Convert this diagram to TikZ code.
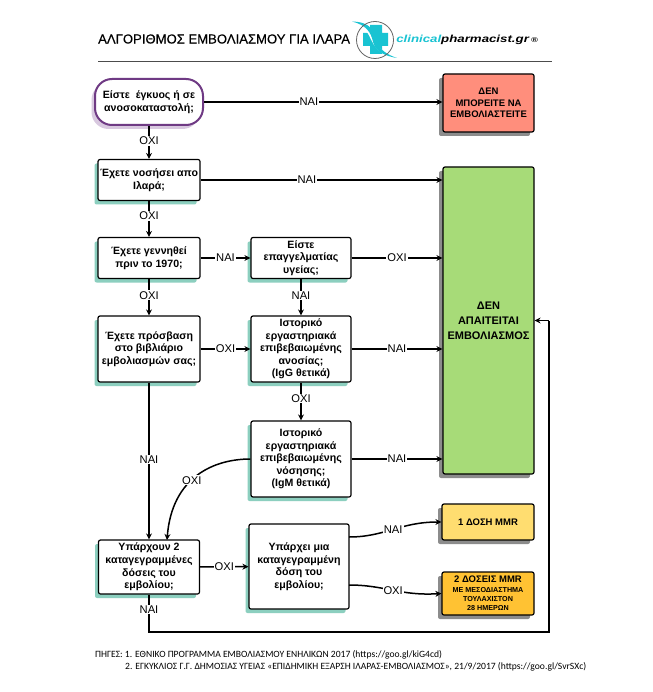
\documentclass[tikz,border=0pt]{standalone}
\usepackage{fontspec}
\setmainfont{Liberation Sans}
\newfontfamily\srcfont{Carlito}
\newfontfamily\titlefont[FakeBold=0.25]{Liberation Sans}
\usetikzlibrary{arrows.meta,shadows,calc}
\definecolor{tealshadow}{HTML}{8CCFBF}
\definecolor{grayshadow}{HTML}{8C8C8C}
\definecolor{purpleline}{HTML}{6F3A84}
\definecolor{purpleshadow}{HTML}{D8C8DF}
\definecolor{redfill}{HTML}{FF8E7C}
\definecolor{greenfill}{HTML}{A7DB78}
\definecolor{yellowfill}{HTML}{FFDD70}
\definecolor{orangefill}{HTML}{FFC233}
\definecolor{logoteal}{HTML}{19C3D2}
\tikzset{
  x=1pt,y=-1pt,
  boxbase/.style={draw=black,line width=1.2pt,rounded corners=2pt,align=center,inner sep=1pt,
    font=\fontsize{10.6}{12.6}\selectfont\bfseries},
  qbox/.style={boxbase,fill=white,drop shadow={shadow xshift=-3.5pt,shadow yshift=-4pt,fill=tealshadow,opacity=1}},
  ansbox/.style={boxbase,font=\fontsize{9.5}{11.7}\selectfont\bfseries,drop shadow={shadow xshift=-4pt,shadow yshift=-4pt,fill=grayshadow,opacity=1}},
  startbox/.style={boxbase,fill=white,draw=purpleline,line width=2pt,rounded corners=17pt,
    drop shadow={shadow xshift=-3.5pt,shadow yshift=-4pt,fill=purpleshadow,opacity=1}},
  flow/.style={draw=black,line width=1.5pt,-{Stealth[length=6pt,width=6pt]}},
  plainflow/.style={draw=black,line width=1.5pt},
  lab/.style={fill=white,inner sep=1pt,font=\fontsize{11.2}{13}\selectfont},
}
\begin{document}
\begin{tikzpicture}
\useasboundingbox[fill=white] (0,0) rectangle (652,692);

% header
\node[anchor=west,inner sep=0pt,font=\titlefont\fontsize{13.1}{15}\selectfont] (title) at (98,39) {ΑΛΓΟΡΙΘΜΟΣ ΕΜΒΟΛΙΑΣΜΟΥ ΓΙΑ ΙΛΑΡΑ};
\draw[line width=0.7pt,draw=black!70] (98,61) -- (552,61);
% logo
\fill[logoteal] (370,25) -- (382,25) -- (382,33) -- (388,33) -- (388,46) -- (382,46) -- (382,54) -- (370,54) -- (370,46) -- (363,46) -- (363,33) -- (370,33) -- cycle;
\draw[white,line width=2.6pt] (358,24) .. controls (376,30) and (366,46) .. (392,57);
\fill[logoteal] (352,21.5) .. controls (372,22) and (374,32) .. (376,40) .. controls (379,50) and (388,55) .. (397,58) .. controls (385,56) and (376,52) .. (373,42) .. controls (371,32) and (366,25) .. (352,21.5) -- cycle;
\draw[draw=black!60,line width=0.8pt] (375,40) circle (18.5);
\node[anchor=west,inner sep=0pt,xscale=1.3,font=\fontsize{10.2}{12}\selectfont\bfseries\itshape] (brand) at (396,40) {\textcolor{logoteal}{clinical}pharmacist.gr\,{\fontsize{7}{8}\selectfont ®}};

% nodes
\node[startbox,minimum width=108pt,minimum height=46pt] (start) at (149,102) {Είστε~ έγκυος ή σε\\ανοσοκαταστολή;};
\node[ansbox,fill=redfill,minimum width=91pt,minimum height=58pt] (red) at (488.5,103) {ΔΕΝ\\ΜΠΟΡΕΙΤΕ ΝΑ\\ΕΜΒΟΛΙΑΣΤΕΙΤΕ};
\node[qbox,minimum width=102pt,minimum height=41pt] (had) at (149,180) {Έχετε νοσήσει απο\\Ιλαρά;};
\node[qbox,minimum width=102pt,minimum height=41pt] (born) at (149,258) {Έχετε γεννηθεί\\πριν το 1970;};
\node[qbox,minimum width=100pt,minimum height=41pt] (staff) at (301,258) {Είστε\\επαγγελματίας\\υγείας;};
\node[qbox,minimum width=102pt,minimum height=66pt] (book) at (149,349) {Έχετε πρόσβαση\\στο βιβλιάριο\\εμβολιασμών σας;};
\node[qbox,minimum width=100pt,minimum height=66pt] (igg) at (301,349) {Ιστορικό\\εργαστηριακά\\επιβεβαιωμένης\\ανοσίας;\\(IgG θετικά)};
\node[qbox,minimum width=100pt,minimum height=76pt] (igm) at (301,459) {Ιστορικό\\εργαστηριακά\\επιβεβαιωμένης\\νόσησης;\\(IgM θετικά)};
\node[qbox,minimum width=101pt,minimum height=54pt] (two) at (149,567) {Υπάρχουν 2\\καταγεγραμμένες\\δόσεις του\\εμβολίου;};
\node[qbox,minimum width=100pt,minimum height=85pt] (one) at (299,566.5) {Υπάρχει μια\\καταγεγραμμένη\\δόση του\\εμβολίου;};
\node[ansbox,fill=greenfill,font=\fontsize{11}{15}\selectfont\bfseries,minimum width=91pt,minimum height=307pt] (green) at (488.5,320.5) {ΔΕΝ\\ΑΠΑΙΤΕΙΤΑΙ\\ΕΜΒΟΛΙΑΣΜΟΣ};
\node[ansbox,fill=yellowfill,minimum width=92pt,minimum height=36pt] (dose1) at (488,522) {1 ΔΟΣΗ MMR};
\node[ansbox,fill=orangefill,font=\fontsize{7.2}{9.2}\selectfont\bfseries,minimum width=92pt,minimum height=43pt] (dose2) at (488,593.5) {\fontsize{9.5}{9.2}\selectfont 2 ΔΟΣΕΙΣ MMR\\ΜΕ ΜΕΣΟΔΙΑΣΤΗΜΑ\\ΤΟΥΛΑΧΙΣΤΟΝ\\28 ΗΜΕΡΩΝ};

% named free points
\coordinate (igmin) at (167,540);
\coordinate (oneup) at (349,537);
\coordinate (onedown) at (349,585);
\coordinate (yesdrop) at (149,632);
\coordinate (yescorner) at (549,632);
\coordinate (yesup) at (549,320.5);

% connectors
\draw[flow] (start) -- node[lab,pos=0.44]{ΝΑΙ} (red.west |- start);
\draw[flow] (start) -- node[lab,pos=0.45]{ΟΧΙ} (had);
\draw[flow] (had) -- node[lab,pos=0.44]{ΝΑΙ} (green.west |- had);
\draw[flow] (had) -- node[lab,pos=0.42]{ΟΧΙ} (born);
\draw[flow] (born) -- node[lab,pos=0.5]{ΝΑΙ} (staff);
\draw[flow] (born) -- node[lab,pos=0.45]{ΟΧΙ} (book);
\draw[flow] (staff) -- node[lab]{ΟΧΙ} (green.west |- staff);
\draw[flow] (staff) -- node[lab,pos=0.45]{ΝΑΙ} (igg);
\draw[flow] (book) -- node[lab,pos=0.5]{ΟΧΙ} (igg);
\draw[flow] (igg) -- node[lab]{ΝΑΙ} (green.west |- igg);
\draw[flow] (igg) -- node[lab,pos=0.42]{ΟΧΙ} (igm);
\draw[flow] (igm) -- node[lab]{ΝΑΙ} (green.west |- igm);
\draw[flow] (book) -- node[lab,pos=0.49]{ΝΑΙ} (two);
\draw[flow] (igm.west) .. controls (215,459) and (172,476) .. node[lab,pos=0.56]{ΟΧΙ} (igmin);
\draw[flow] (two) -- node[lab,pos=0.5]{ΟΧΙ} (one);
\draw[flow] (oneup) .. controls (385,537) and (400,522) .. node[lab,pos=0.5]{ΝΑΙ} (dose1.west);
\draw[flow] (onedown) .. controls (385,585) and (400,596) .. node[lab,pos=0.5]{ΟΧΙ} (dose2.west);
\draw[plainflow] (two.south -| yesdrop) -- node[lab,pos=0.4]{ΝΑΙ} (yesdrop) -- (yescorner) -- (yesup);
\draw[flow] (yesup) -- (green.east |- yesup);

% sources
\node[anchor=west,inner sep=0pt,font=\srcfont\fontsize{9.6}{11}\selectfont] (src1) at (95,655) {ΠΗΓΕΣ: 1. ΕΘΝΙΚΟ ΠΡΟΓΡΑΜΜΑ ΕΜΒΟΛΙΑΣΜΟΥ ΕΝΗΛΙΚΩΝ 2017 (https://goo.gl/kiG4cd)};
\node[anchor=west,inner sep=0pt,font=\srcfont\fontsize{9.6}{11}\selectfont] (src2) at (125,667) {2. ΕΓΚΥΚΛΙΟΣ Γ.Γ. ΔΗΜΟΣΙΑΣ ΥΓΕΙΑΣ «ΕΠΙΔΗΜΙΚΗ ΕΞΑΡΣΗ ΙΛΑΡΑΣ-ΕΜΒΟΛΙΑΣΜΟΣ», 21/9/2017 (https://goo.gl/SvrSXc)};
\end{tikzpicture}
\end{document}
